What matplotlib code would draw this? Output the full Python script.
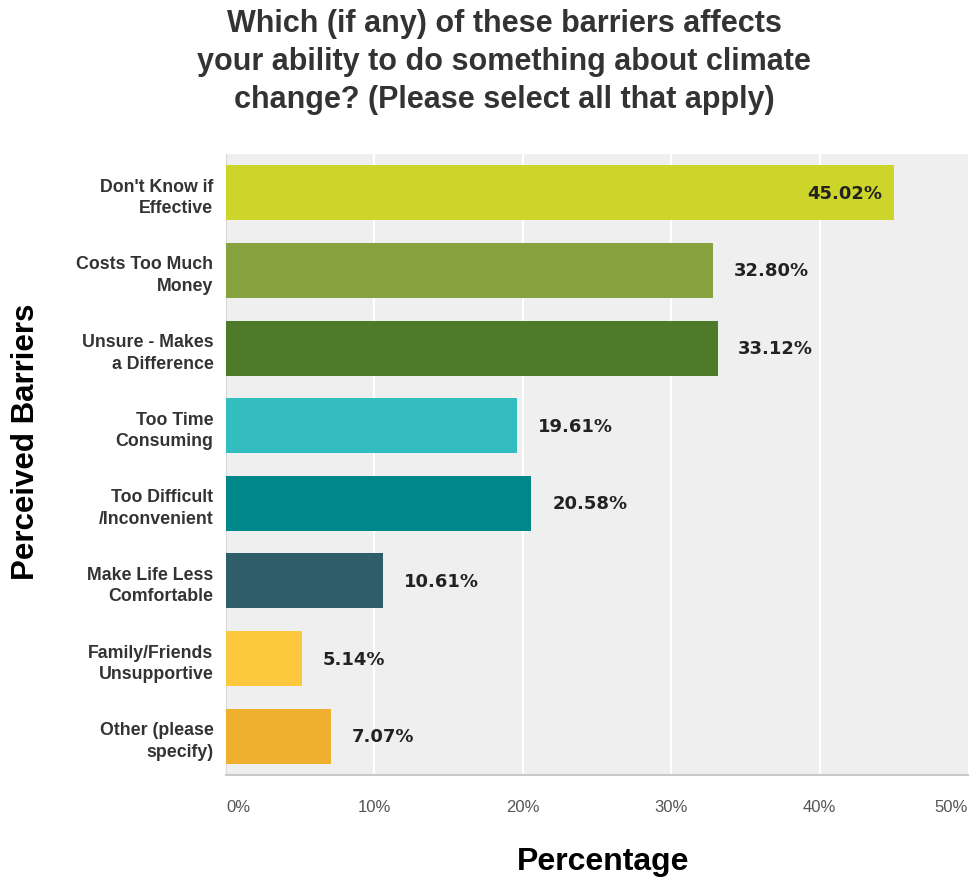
import matplotlib
matplotlib.use("Agg")
import matplotlib.pyplot as plt

categories = [
    "Don't Know if\nEffective",
    "Costs Too Much\nMoney",
    "Unsure - Makes\na Difference",
    "Too Time\nConsuming",
    "Too Difficult\n/Inconvenient",
    "Make Life Less\nComfortable",
    "Family/Friends\nUnsupportive",
    "Other (please\nspecify)",
]
values = [45.02, 32.80, 33.12, 19.61, 20.58, 10.61, 5.14, 7.07]
colors = ["#CDD52A", "#86A340", "#4E7A29", "#33BDBF", "#00878A",
          "#2F5E6A", "#FCC83D", "#EEB02E"]
xticks = [0, 10, 20, 30, 40, 50]
xtick_labels = ["0%", "10%", "20%", "30%", "40%", "50%"]

W, H = 973, 879
fig = plt.figure(figsize=(W / 100, H / 100), dpi=100)
fig.patch.set_facecolor("white")

left, right, top, bottom = 226, 968, 155, 776
ax = fig.add_axes([left / W, 1 - bottom / H, (right - left) / W, (bottom - top) / H])
ax.set_facecolor("#EFEFEF")

y = list(range(len(categories)))
ax.barh(y, values, height=0.71, color=colors, zorder=3)
ax.set_ylim(len(categories) - 0.5, -0.5)
ax.set_xlim(0, 50)

for xv in xticks[1:-1]:
    ax.axvline(xv, color="white", lw=1.5, zorder=1)

for spine in ["top", "right"]:
    ax.spines[spine].set_visible(False)
ax.spines["left"].set_color("#DADADA")
ax.spines["bottom"].set_color("#C8C8C8")
ax.spines["bottom"].set_linewidth(1.5)

ax.set_yticks(y)
ax.set_yticklabels(categories, fontfamily="Liberation Sans", fontweight="bold",
                   fontsize=12.8, color="#333333", ha="right", linespacing=1.35)
ax.tick_params(axis="y", length=0, pad=9)

ax.set_xticks(xticks)
ax.set_xticklabels(xtick_labels, fontfamily="Liberation Sans", fontsize=12,
                   color="#555555")
ax.tick_params(axis="x", length=0, pad=17)
tl = ax.get_xticklabels()
tl[0].set_ha("left")
tl[-1].set_ha("right")

for yi, v in zip(y, values):
    label = f"{v:.2f}%"
    if v > 40:
        ax.text(v - 0.8, yi, label, ha="right", va="center", fontsize=13,
                fontweight="bold", color="#222222", fontfamily="DejaVu Sans", zorder=4)
    else:
        ax.text(v + 1.4, yi, label, ha="left", va="center", fontsize=13,
                fontweight="bold", color="#222222", fontfamily="DejaVu Sans", zorder=4)

fig.text(504 / W, 1 - 62 / H,
         "Which (if any) of these barriers affects\nyour ability to do something about climate\nchange? (Please select all that apply)",
         ha="center", va="center", fontsize=22, fontweight="bold",
         color="#333333", fontfamily="Liberation Sans", linespacing=1.36)

fig.text(26 / W, 1 - 442 / H, "Perceived Barriers", rotation=90, ha="center",
         va="center", fontsize=22.5, fontweight="bold", color="black",
         fontfamily="Liberation Sans")
fig.text(603 / W, 1 - 862 / H, "Percentage", ha="center", va="center",
         fontsize=23, fontweight="bold", color="black",
         fontfamily="Liberation Sans")

fig.savefig("out.png", dpi=100, facecolor="white")
